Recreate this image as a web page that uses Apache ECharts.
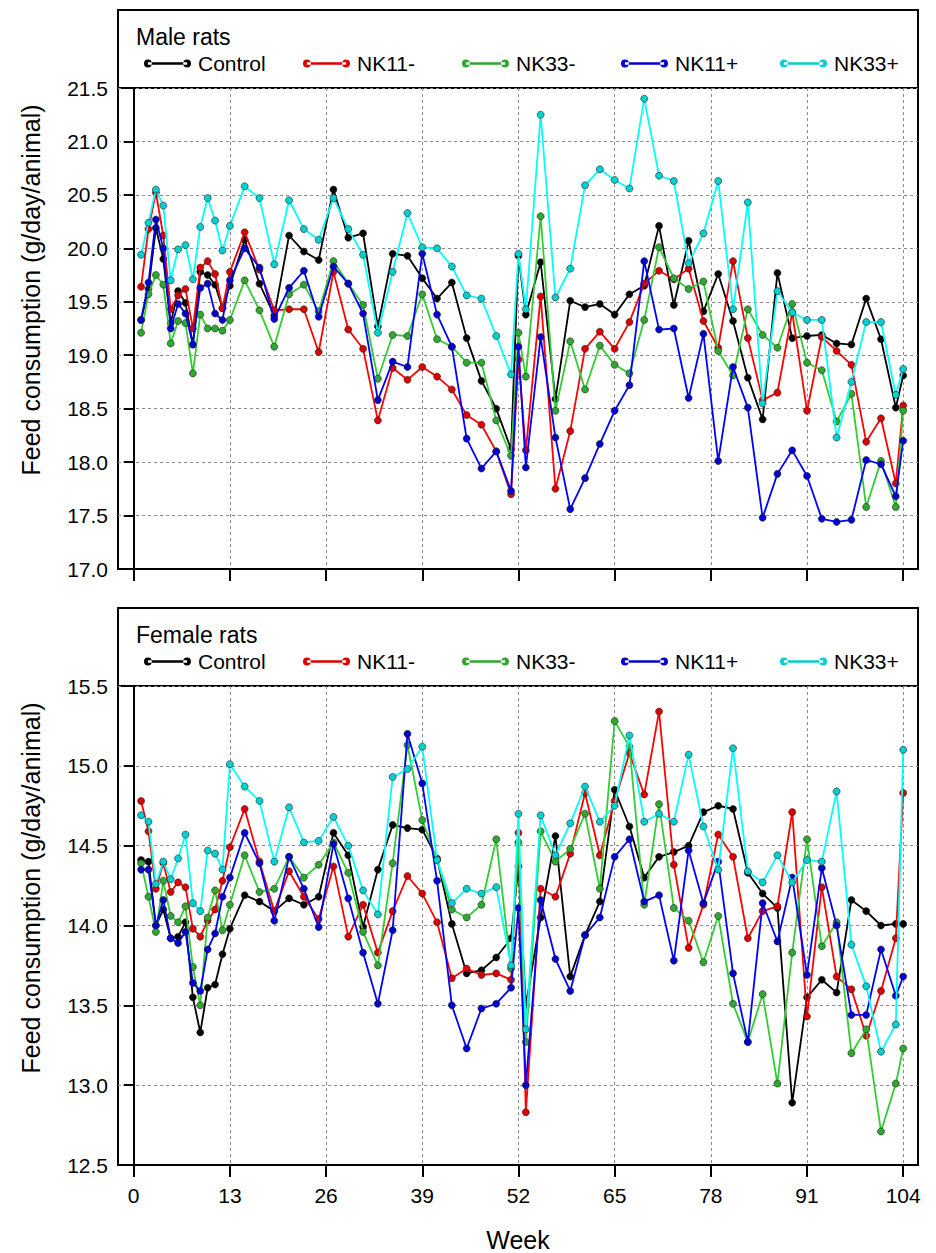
<!DOCTYPE html>
<html>
<head>
<meta charset="utf-8">
<title>Feed consumption</title>
<script src="https://cdn.jsdelivr.net/npm/echarts@6/dist/echarts.min.js"></script>
<style>
  html, body { margin: 0; padding: 0; background: #fff; }
  #chart { width: 936px; height: 1253px; }
</style>
</head>
<body>
<div id="chart"></div>
<script>
// sampling weeks (weekly to 13, then every other week)
var weeks = [1, 2, 3, 4, 5, 6, 7, 8, 9, 10, 11, 12, 13, 15, 17, 19, 21, 23, 25, 27, 29, 31, 33, 35, 37, 39, 41, 43, 45, 47, 49, 51,
  52, 53, 55, 57, 59, 61, 63, 65, 67, 69, 71, 73, 75, 77, 79, 81, 83, 85, 87, 89, 91, 93, 95, 97, 99, 101, 103, 104]
var groups = ['Control', 'NK11-', 'NK33-', 'NK11+', 'NK33+']
var xTicks = [0, 13, 26, 39, 52, 65, 78, 91, 104]

// male rats
var maleControl = [19.33, 19.62, 20.19, 19.90, 19.30, 19.60, 19.49, 19.10, 19.78, 19.75, 19.66, 19.44, 19.65,
  20.08, 19.67, 19.37, 20.12, 19.97, 19.89, 20.55, 20.10, 20.14, 19.27, 19.95, 19.93, 19.72, 19.53, 19.68, 19.16, 18.76, 18.50, 18.12,
  19.93, 19.38, 19.87, 18.59, 19.51, 19.45, 19.48, 19.38, 19.57, 19.65, 20.21, 19.47, 20.07, 19.41, 19.76, 19.32, 18.79, 18.40, 19.77,
  19.16, 19.18, 19.19, 19.11, 19.10, 19.53, 19.15, 18.51, 18.81]
var maleNK11m = [19.64, 20.18, 20.52, 20.12, 19.43, 19.56, 19.62, 19.25, 19.82, 19.88, 19.76, 19.44, 19.78,
  20.15, 19.80, 19.42, 19.43, 19.43, 19.03, 19.78, 19.24, 19.06, 18.39, 18.88, 18.77, 18.89, 18.80, 18.68, 18.44, 18.35, 18.10, 17.70,
  18.96, 18.11, 19.55, 17.75, 18.29, 19.06, 19.22, 19.06, 19.31, 19.67, 19.79, 19.71, 19.81, 19.32, 19.07, 19.88, 19.16, 18.58, 18.65,
  19.40, 18.48, 19.17, 19.04, 18.91, 18.19, 18.41, 17.80, 18.53]
var maleNK33m = [19.21, 19.57, 19.75, 19.66, 19.11, 19.32, 19.30, 18.83, 19.38, 19.25, 19.25, 19.23, 19.33,
  19.70, 19.42, 19.08, 19.57, 19.66, 19.41, 19.88, 19.67, 19.47, 18.78, 19.19, 19.18, 19.57, 19.15, 19.08, 18.93, 18.93, 18.39, 18.06,
  19.21, 18.80, 20.30, 18.48, 19.13, 18.68, 19.09, 18.91, 18.83, 19.33, 20.01, 19.72, 19.62, 19.69, 19.04, 18.81, 19.43, 19.19, 19.07,
  19.48, 18.93, 18.86, 18.38, 18.64, 17.58, 18.01, 17.58, 18.48]
var maleNK11p = [19.33, 19.68, 20.27, 20.00, 19.25, 19.48, 19.39, 19.10, 19.63, 19.67, 19.39, 19.33, 19.70,
  20.00, 19.82, 19.34, 19.63, 19.79, 19.36, 19.83, 19.67, 19.39, 18.58, 18.94, 18.89, 19.95, 19.38, 19.08, 18.22, 17.94, 18.10, 17.73,
  19.08, 17.95, 19.17, 18.23, 17.56, 17.85, 18.17, 18.48, 18.72, 19.88, 19.24, 19.25, 18.60, 19.20, 18.01, 18.89, 18.51, 17.48, 17.89,
  18.11, 17.87, 17.47, 17.44, 17.46, 18.02, 17.98, 17.68, 18.20]
var maleNK33p = [19.94, 20.24, 20.55, 20.40, 19.70, 19.99, 20.03, 19.71, 20.20, 20.47, 20.26, 19.98, 20.21,
  20.58, 20.47, 19.85, 20.45, 20.18, 20.08, 20.47, 20.18, 19.94, 19.21, 19.78, 20.33, 20.01, 20.00, 19.83, 19.56, 19.53, 19.18, 18.82,
  19.95, 19.43, 21.25, 19.54, 19.81, 20.59, 20.74, 20.64, 20.56, 21.40, 20.68, 20.63, 19.86, 20.14, 20.63, 19.43, 20.43, 18.55, 19.60,
  19.40, 19.33, 19.33, 18.23, 18.75, 19.31, 19.31, 18.63, 18.87]

// female rats
var femaleControl = [14.41, 14.40, 14.00, 14.10, 13.92, 13.93, 14.02, 13.55, 13.33, 13.61, 13.63, 13.82, 13.98,
  14.19, 14.15, 14.09, 14.17, 14.13, 14.18, 14.58, 14.44, 13.99, 14.35, 14.63, 14.61, 14.60, 14.42, 14.01, 13.70, 13.72, 13.80, 13.92,
  14.37, 13.50, 14.05, 14.56, 13.68, 13.94, 14.15, 14.85, 14.62, 14.30, 14.43, 14.46, 14.50, 14.71, 14.75, 14.73, 14.33, 14.20, 14.11,
  12.89, 13.55, 13.66, 13.58, 14.16, 14.09, 14.00, 14.01, 14.01]
var femaleNK11m = [14.78, 14.59, 14.23, 14.39, 14.21, 14.27, 14.24, 13.98, 13.93, 14.03, 14.10, 14.28, 14.49,
  14.73, 14.40, 14.09, 14.34, 14.18, 14.04, 14.37, 13.93, 14.13, 13.83, 14.09, 14.31, 14.20, 14.02, 13.67, 13.73, 13.69, 13.70, 13.66,
  14.58, 12.83, 14.23, 14.18, 14.45, 14.83, 14.44, 14.78, 15.08, 14.82, 15.34, 14.38, 13.86, 14.13, 14.57, 14.43, 13.92, 14.09, 14.12,
  14.71, 13.43, 14.24, 13.68, 13.60, 13.31, 13.59, 13.92, 14.83]
var femaleNK33m = [14.39, 14.18, 13.96, 14.28, 14.06, 14.02, 14.12, 13.74, 13.50, 14.05, 14.22, 13.97, 14.13,
  14.44, 14.21, 14.23, 14.43, 14.30, 14.38, 14.52, 14.33, 13.96, 13.75, 14.39, 15.13, 14.66, 14.41, 14.10, 14.05, 14.13, 14.54, 13.73,
  14.52, 13.27, 14.59, 14.40, 14.48, 14.70, 14.23, 15.28, 15.12, 14.13, 14.76, 14.11, 14.03, 13.77, 14.06, 13.51, 13.27, 13.57, 13.01,
  13.83, 14.54, 13.87, 14.02, 13.20, 13.35, 12.71, 13.01, 13.23]
var femaleNK11p = [14.35, 14.35, 14.00, 14.16, 13.92, 13.89, 13.96, 13.64, 13.59, 13.85, 13.95, 14.18, 14.30,
  14.58, 14.39, 14.03, 14.43, 14.23, 13.99, 14.51, 14.17, 13.83, 13.51, 13.97, 15.20, 14.89, 14.28, 13.50, 13.23, 13.48, 13.51, 13.61,
  14.11, 13.00, 14.16, 13.79, 13.59, 13.94, 14.05, 14.43, 14.54, 14.15, 14.19, 13.78, 14.47, 14.14, 14.40, 13.70, 13.27, 14.14, 13.90,
  14.30, 13.69, 14.36, 14.00, 13.44, 13.44, 13.85, 13.56, 13.68]
var femaleNK33p = [14.69, 14.65, 14.26, 14.40, 14.29, 14.42, 14.57, 14.14, 14.09, 14.47, 14.45, 14.35, 15.01,
  14.87, 14.78, 14.40, 14.74, 14.52, 14.53, 14.68, 14.50, 14.22, 14.07, 14.93, 14.98, 15.12, 14.41, 14.14, 14.23, 14.20, 14.24, 13.75,
  14.70, 13.35, 14.69, 14.44, 14.64, 14.87, 14.65, 14.75, 15.19, 14.65, 14.70, 14.65, 15.07, 14.62, 14.35, 15.11, 14.34, 14.27, 14.44,
  14.27, 14.41, 14.40, 14.84, 13.88, 13.62, 13.21, 13.38, 15.10]

var maleData = [maleControl, maleNK11m, maleNK33m, maleNK11p, maleNK33p]
var femaleData = [femaleControl, femaleNK11m, femaleNK33m, femaleNK11p, femaleNK33p]

var font = 'Arial, "Liberation Sans", Helvetica, sans-serif'
var lineColors = ['#000000', '#ff0000', '#33cc33', '#0000ff', '#00ffff']
var dotColors = ['#000000', '#dd0000', '#2fa82f', '#0000d0', '#00d0d0']
var legendLeft = [139, 298, 457, 616, 775]
// line with a dot at each end
var legendIcon = 'path://M0,4A4,4 0 1,0 8,4A4,4 0 1,0 0,4ZM40,4A4,4 0 1,0 48,4A4,4 0 1,0 40,4ZM4,2.6L44,2.6L44,5.4L4,5.4Z'

function xAxisFor(gridIndex, showLabels) {
  return {
    type: 'value',
    gridIndex: gridIndex,
    min: -2.12,
    max: 106,
    name: showLabels ? 'Week' : '',
    nameLocation: 'middle',
    nameGap: 62,
    nameTextStyle: { fontFamily: font, fontSize: 25, color: '#000' },
    axisLine: { show: true, onZero: false, lineStyle: { color: '#000', width: 2 } },
    axisTick: { show: true, inside: false, length: 12, customValues: xTicks, lineStyle: { color: '#000', width: 2 } },
    axisLabel: { show: showLabels, customValues: xTicks, margin: 20, fontFamily: font, fontSize: 21, color: '#000' },
    splitLine: { show: true, lineStyle: { color: '#8c8c8c', width: 1, type: [3, 3] } }
  }
}

function yAxisFor(gridIndex, min, max) {
  return {
    type: 'value',
    gridIndex: gridIndex,
    min: min,
    max: max,
    interval: 0.5,
    axisLine: { show: true, lineStyle: { color: '#000', width: 2 } },
    axisTick: { show: true, inside: false, length: 10, lineStyle: { color: '#000', width: 2 } },
    axisLabel: {
      margin: 10, fontFamily: font, fontSize: 21, color: '#000',
      formatter: function(v) { return v.toFixed(1) }
    },
    splitLine: { show: true, lineStyle: { color: '#8c8c8c', width: 1, type: [3, 3] } }
  }
}

function seriesFor(gridIndex, data) {
  return groups.map(function(g, i) {
    return {
      name: g,
      type: 'line',
      xAxisIndex: gridIndex,
      yAxisIndex: gridIndex,
      data: weeks.map(function(w, k) { return [w, data[i][k]] }),
      symbol: 'circle',
      symbolSize: 7,
      lineStyle: { color: lineColors[i], width: 1.8 },
      itemStyle: { color: dotColors[i], borderColor: '#222', borderWidth: 0.6 },
      emphasis: { disabled: true },
      z: 2 + i
    }
  })
}

function legendsFor(top) {
  return groups.map(function(g, i) {
    return {
      data: [g],
      left: legendLeft[i],
      top: top,
      icon: legendIcon,
      itemWidth: 47,
      itemHeight: 9,
      selectedMode: false,
      itemStyle: { borderWidth: 0 },
      textStyle: { fontFamily: font, fontSize: 21, color: '#000', padding: [0, 0, 0, 2] }
    }
  })
}

function panelText(x, y, text, size, rotate) {
  return {
    type: 'text',
    x: x,
    y: y,
    rotation: rotate ? Math.PI / 2 : 0,
    style: {
      text: text,
      font: size + 'px ' + font,
      fill: '#000',
      align: rotate ? 'center' : 'left',
      verticalAlign: 'middle',
      textAlign: rotate ? 'center' : 'left',
      textVerticalAlign: 'middle'
    }
  }
}

var chart = echarts.init(document.getElementById('chart'), null, { renderer: 'svg' })
chart.setOption({
  animation: false,
  backgroundColor: '#ffffff',
  grid: [
    { left: 118, top: 88, width: 800, height: 481, show: true, borderColor: '#000', borderWidth: 2, backgroundColor: 'transparent' },
    { left: 118, top: 686, width: 800, height: 481, show: true, borderColor: '#000', borderWidth: 2, backgroundColor: 'transparent' }
  ],
  xAxis: [xAxisFor(0, false), xAxisFor(1, true)],
  yAxis: [yAxisFor(0, 17, 21.5), yAxisFor(1, 12.5, 15.5)],
  legend: legendsFor(48).concat(legendsFor(646)),
  graphic: [
    { type: 'rect', shape: { x: 118, y: 10, width: 800, height: 78 }, style: { fill: 'none', stroke: '#000', lineWidth: 2 } },
    { type: 'rect', shape: { x: 118, y: 608, width: 800, height: 78 }, style: { fill: 'none', stroke: '#000', lineWidth: 2 } },
    panelText(136, 37, 'Male rats', 23, false),
    panelText(136, 635, 'Female rats', 23, false),
    panelText(31, 290, 'Feed consumption (g/day/animal)', 25, true),
    panelText(31, 888, 'Feed consumption (g/day/animal)', 25, true)
  ],
  series: seriesFor(0, maleData).concat(seriesFor(1, femaleData))
})
</script>
</body>
</html>
